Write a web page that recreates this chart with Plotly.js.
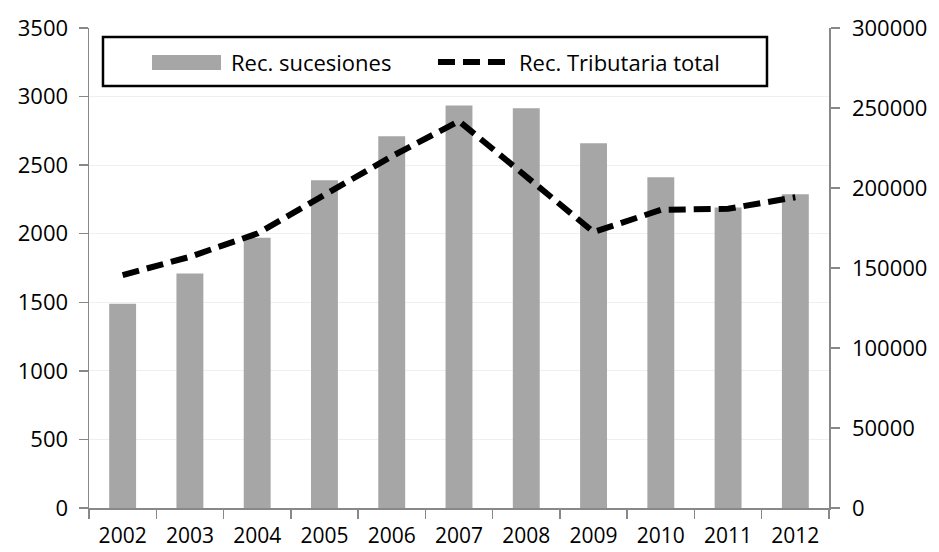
<!DOCTYPE html>
<html>
<head>
<meta charset="utf-8">
<script src="https://cdn.plot.ly/plotly-3.0.1.min.js"></script>
<style>html,body{margin:0;padding:0;background:#fff;}#chart{width:939px;height:552px;}</style>
</head>
<body>
<div id="chart"></div>
<script>
var years = ["2002","2003","2004","2005","2006","2007","2008","2009","2010","2011","2012"];
var sucesiones = [1490, 1710, 1970, 2390, 2710, 2935, 2915, 2660, 2412, 2192, 2288];
var tributaria = [145600, 157000, 171500, 195600, 219800, 241800, 207000, 172500, 186300, 187000, 194200];
var leftTicks = [0, 500, 1000, 1500, 2000, 2500, 3000, 3500];
var rightTicks = [0, 50000, 100000, 150000, 200000, 250000, 300000];
var seriesNames = ["Rec. sucesiones", "Rec. Tributaria total"];

var font = "'Open Sans', sans-serif";
var barColor = "#a6a6a6";
var traces = [
  {type: "bar", name: seriesNames[0], x: years, y: sucesiones,
   marker: {color: barColor}, yaxis: "y"},
  {type: "scatter", mode: "lines", name: seriesNames[1], x: years, y: tributaria,
   line: {color: "#000000", width: 6, dash: "17px,8px"}, yaxis: "y2"}
];
var layout = {
  width: 939, height: 552,
  margin: {l: 89, r: 110, t: 28, b: 44},
  paper_bgcolor: "#ffffff", plot_bgcolor: "#ffffff",
  font: {family: font, size: 22, color: "#000"},
  bargap: 0.6,
  showlegend: false,
  xaxis: {type: "category", tickson: "boundaries", ticks: "outside", ticklen: 9,
    tickcolor: "#888", tickwidth: 1.5, showline: true, linecolor: "#888", linewidth: 1.5,
    showgrid: false, ticklabelstandoff: 8, tickfont: {size: 21}, fixedrange: true},
  yaxis: {range: [0, 3500], tickvals: leftTicks, ticktext: leftTicks.map(String), ticks: "outside", ticklen: 9,
    tickcolor: "#888", tickwidth: 1.5, showline: true, linecolor: "#888", linewidth: 1.5,
    gridcolor: "#efefef", gridwidth: 1, zeroline: false, ticklabelstandoff: 6},
  yaxis2: {range: [0, 300000], tickvals: rightTicks, ticktext: rightTicks.map(String),
    overlaying: "y", side: "right",
    ticks: "outside", ticklen: 9, tickcolor: "#888", tickwidth: 1.5, showline: true,
    linecolor: "#888", linewidth: 1.5, showgrid: false, zeroline: false,
    ticklabelstandoff: 8},
  shapes: [
    {type: "rect", xref: "paper", yref: "paper", x0: 0.0189, x1: 0.9162, y0: 0.879, y1: 0.981,
     line: {color: "#000", width: 2.5}, fillcolor: "#fff", layer: "above"},
    {type: "rect", xref: "paper", yref: "paper", x0: 0.0851, x1: 0.1784, y0: 0.9125, y1: 0.94375,
     line: {width: 0}, fillcolor: barColor, layer: "above"},
    {type: "line", xref: "paper", yref: "paper", x0: 0.4716, x1: 0.5649, y0: 0.929, y1: 0.929,
     line: {color: "#000", width: 6, dash: "17px,8px"}, layer: "above"}
  ],
  annotations: [
    {xref: "paper", yref: "paper", x: 0.1892, y: 0.929, xanchor: "left", yanchor: "middle",
     text: seriesNames[0], showarrow: false, font: {family: font, size: 22, color: "#000"}},
    {xref: "paper", yref: "paper", x: 0.5784, y: 0.929, xanchor: "left", yanchor: "middle",
     text: seriesNames[1], showarrow: false, font: {family: font, size: 22, color: "#000"}}
  ]
};
Plotly.newPlot("chart", traces, layout, {displayModeBar: false, staticPlot: true});
</script>
</body>
</html>
